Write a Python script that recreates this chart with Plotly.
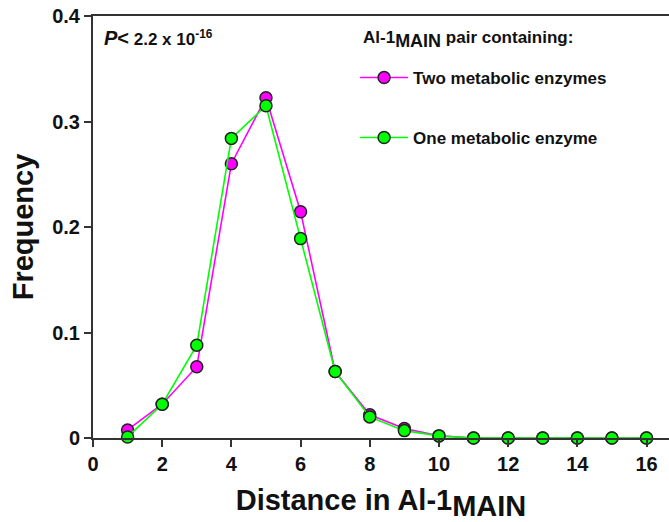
import plotly.graph_objects as go

distance = [1, 2, 3, 4, 5, 6, 7, 8, 9, 10, 11, 12, 13, 14, 15, 16]
two_enzymes = [0.0076, 0.032, 0.0676, 0.260, 0.3226, 0.2145, 0.063, 0.022, 0.009, 0.002, 0, 0, 0, 0, 0, 0]
one_enzyme = [0.001, 0.032, 0.088, 0.284, 0.315, 0.189, 0.063, 0.020, 0.007, 0.002, 0, 0, 0, 0, 0, 0]
x_ticks = [0, 2, 4, 6, 8, 10, 12, 14, 16]
y_ticks = [0, 0.1, 0.2, 0.3, 0.4]
y_tick_text = ["0", "0.1", "0.2", "0.3", "0.4"]

FONT = "Liberation Sans, Arial, sans-serif"
AX = "#333333"
TXT = "#111111"

fig = go.Figure()
fig.add_trace(go.Scatter(
    x=distance, y=two_enzymes, mode="lines+markers", name="<b>Two metabolic enzymes</b>",
    line=dict(color="#ff00ff", width=1.6),
    marker=dict(size=12, color="#ff00ff", line=dict(color="#222222", width=1.5)),
    cliponaxis=False, legendgroup="a",
))
fig.add_trace(go.Scatter(
    x=distance, y=one_enzyme, mode="lines+markers", name="<b>One metabolic enzyme</b>",
    line=dict(color="#00ff00", width=1.6),
    marker=dict(size=12, color="#00ff00", line=dict(color="#222222", width=1.5)),
    cliponaxis=False, legendgroup="b",
))

fig.update_layout(
    width=669, height=522,
    margin=dict(l=93, r=0, t=16, b=84),
    paper_bgcolor="white", plot_bgcolor="white",
    font=dict(family=FONT, color=TXT),
    showlegend=True,
    legend=dict(
        x=0.455, y=0.896, xanchor="left", yanchor="top",
        bgcolor="rgba(0,0,0,0)",
        font=dict(size=17, family=FONT, color=TXT),
        tracegroupgap=35, itemwidth=48,
    ),
    xaxis=dict(
        range=[0, 16.65], tickvals=x_ticks, ticktext=[f"<b>{v}</b>" for v in x_ticks],
        showgrid=False, zeroline=False,
        showline=True, linecolor=AX, linewidth=2, mirror=True,
        ticks="outside", ticklen=7, tickwidth=2, tickcolor=AX,
        tickfont=dict(size=20, family=FONT, color=TXT),
        title=dict(text="<b>Distance in Al-1<sub><span style='font-size:29px'>MAIN</span></sub></b>",
                   font=dict(size=29, family=FONT, color=TXT), standoff=16),
    ),
    yaxis=dict(
        range=[0, 0.4], tickvals=y_ticks, ticktext=[f"<b>{t}</b>" for t in y_tick_text],
        showgrid=False, zeroline=False,
        showline=True, linecolor=AX, linewidth=2,
        ticks="outside", ticklen=7, tickwidth=2, tickcolor=AX,
        tickfont=dict(size=20, family=FONT, color=TXT),
        title=dict(text="<b>Frequency</b>", font=dict(size=29, family=FONT, color=TXT), standoff=10),
    ),
)

fig.add_annotation(
    x=0.465, y=0.945, xref="paper", yref="paper", xanchor="left", yanchor="middle",
    text="<b>Al-1<sub><span style='font-size:18px'>MAIN</span></sub> pair containing:</b>",
    showarrow=False, font=dict(size=17, family=FONT, color=TXT),
)

fig.add_annotation(
    x=0.015, y=0.978, xref="paper", yref="paper", xanchor="left", yanchor="top",
    text="<b><i><span style='font-size:20px'>P</span></i><span style='font-size:20px'><</span> 2.2 x 10<sup>-16</sup></b>",
    showarrow=False, font=dict(size=17, family=FONT, color=TXT),
)

fig.write_html("out.html")
